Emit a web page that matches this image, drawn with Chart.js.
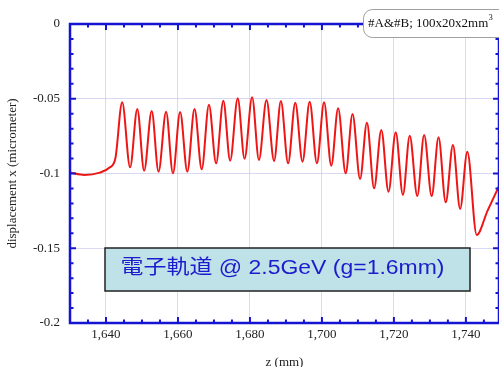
<!DOCTYPE html>
<html>
<head>
<meta charset="utf-8">
<script src="https://cdn.jsdelivr.net/npm/chart.js@4"></script>
<style>
  html, body { margin: 0; padding: 0; background: #fff; }
  canvas { display: block; }
</style>
</head>
<body>
<canvas id="grafico" width="499" height="367"></canvas>
<script>
// posição z (mm) dos extremos da curva e deslocamento x (micrometer)
const zPos = [1630, 1634, 1638.3, 1641, 1642.6,
  1644.5, 1646.7, 1648.7, 1650.6, 1652.7, 1654.6, 1656.7, 1658.6, 1660.6, 1662.6,
  1664.6, 1666.6, 1668.6, 1670.6, 1672.6, 1674.5, 1676.6, 1678.5, 1680.6, 1682.5,
  1684.6, 1686.7, 1688.6, 1690.6, 1692.6, 1694.6, 1696.6, 1698.6, 1700.6, 1702.6,
  1704.5, 1706.6, 1708.5, 1710.6, 1712.5, 1714.5, 1716.5, 1718.5, 1720.5, 1722.5,
  1724.4, 1726.5, 1728.4, 1730.5, 1732.4, 1734.4, 1736.4, 1738.4, 1740.4,
  1743.0, 1746.0, 1749.2];
const deslocamento = [-0.0994, -0.1010, -0.0994, -0.0960, -0.0900,
  -0.0524, -0.0959, -0.0569, -0.0981, -0.0582, -0.0988, -0.0587, -0.0999, -0.0589, -0.0988,
  -0.0569, -0.0972, -0.0540, -0.0932, -0.0513, -0.0914, -0.0497, -0.0901, -0.0490, -0.0910,
  -0.0508, -0.0916, -0.0515, -0.0932, -0.0526, -0.0921, -0.0520, -0.0932, -0.0524, -0.0948,
  -0.0564, -0.0999, -0.0602, -0.1037, -0.0660, -0.1099, -0.0709, -0.1122, -0.0724, -0.1144,
  -0.0747, -0.1151, -0.0742, -0.1151, -0.0758, -0.1193, -0.0809, -0.1237, -0.0854,
  -0.1411, -0.1250, -0.1084];

const xTicks = [1640, 1660, 1680, 1700, 1720, 1740];
const yTicks = [0, -0.05, -0.1, -0.15, -0.2];

const legendaTexto = "#A&#B; 100x20x2mm";
const legendaSup = "3";
const anotacaoTexto = "電子軌道 @ 2.5GeV (g=1.6mm)";

const AZUL = "#1414d2";
const fonteSerif = { family: "'Liberation Serif', 'Times New Roman', serif", size: 13 };

// eixos com marcas para dentro, caixa da legenda e caixa de anotação
const moldura = {
  id: "moldura",
  afterDatasetsDraw(chart) {
    const { ctx, chartArea: a, scales } = chart;
    const sx = scales.x, sy = scales.y;
    ctx.save();
    ctx.strokeStyle = AZUL;
    ctx.lineWidth = 2.5;
    ctx.strokeRect(a.left, a.top, a.right - a.left, a.bottom - a.top);

    ctx.lineWidth = 2;
    ctx.beginPath();
    for (let v = 1630; v <= 1749; v += 5) {
      const px = sx.getPixelForValue(v);
      const len = v % 20 === 0 ? 6 : 3.5;
      ctx.moveTo(px, a.bottom); ctx.lineTo(px, a.bottom - len);
      ctx.moveTo(px, a.top); ctx.lineTo(px, a.top + len);
    }
    for (let i = 0; i <= 20; i++) {
      const py = sy.getPixelForValue(-i * 0.01);
      const len = i % 5 === 0 ? 6 : 3.5;
      ctx.moveTo(a.left, py); ctx.lineTo(a.left + len, py);
      ctx.moveTo(a.right, py); ctx.lineTo(a.right - len, py);
    }
    ctx.stroke();

    // legenda no canto superior direito
    ctx.fillStyle = "#fff";
    ctx.strokeStyle = "#a0a0a0";
    ctx.lineWidth = 1;
    ctx.beginPath();
    ctx.roundRect(363.5, 9.5, 150, 28, 9);
    ctx.fill();
    ctx.stroke();
    ctx.fillStyle = "#111";
    ctx.font = "13px " + fonteSerif.family;
    ctx.textBaseline = "middle";
    ctx.textAlign = "left";
    ctx.fillText(legendaTexto, 368, 24);
    const w = ctx.measureText(legendaTexto).width;
    ctx.font = "8px " + fonteSerif.family;
    ctx.fillText(legendaSup, 368 + w + 0.5, 18);

    // caixa de anotação
    ctx.fillStyle = "#bfe2e9";
    ctx.strokeStyle = "#222";
    ctx.lineWidth = 1.5;
    ctx.fillRect(105, 248, 365, 43);
    ctx.strokeRect(105, 248, 365, 43);
    ctx.font = "20px 'Liberation Sans', 'Noto Sans CJK JP', sans-serif";
    const tw = ctx.measureText(anotacaoTexto).width;
    ctx.translate(120.5, 268);
    ctx.scale(324 / tw, 1);
    ctx.fillStyle = "#1c1ccc";
    ctx.fillText(anotacaoTexto, 0, 0);
    ctx.restore();
  }
};

new Chart(document.getElementById("grafico").getContext("2d"), {
  type: "line",
  data: {
    datasets: [{
      data: zPos.map((z, i) => ({ x: z, y: deslocamento[i] })),
      borderColor: "#ee1515",
      borderWidth: 2,
      pointRadius: 0,
      cubicInterpolationMode: "monotone",
      fill: false
    }]
  },
  options: {
    responsive: false,
    animation: false,
    devicePixelRatio: 1,
    layout: { padding: { top: 24, right: 0, left: 0, bottom: 0 } },
    plugins: {
      legend: { display: false },
      tooltip: { enabled: false }
    },
    scales: {
      x: {
        type: "linear",
        min: 1630,
        max: 1749.2,
        afterBuildTicks: s => { s.ticks = xTicks.map(v => ({ value: v })); },
        afterFit: s => { s.height = 44; },
        grid: { color: "rgba(180,180,235,0.5)", lineWidth: 1, drawTicks: false },
        border: { display: false },
        ticks: {
          font: fonteSerif,
          color: "#222",
          padding: 4,
          maxRotation: 0,
          callback: v => v.toLocaleString("en-US")
        },
        title: {
          display: true,
          text: "z (mm)",
          color: "#222",
          font: { ...fonteSerif, lineHeight: 0.7 },
          padding: { top: 0, bottom: 0 }
        }
      },
      y: {
        min: -0.2,
        max: 0,
        afterBuildTicks: s => { s.ticks = yTicks.map(v => ({ value: v })); },
        afterFit: s => { s.width = 70; },
        grid: { color: "rgba(180,180,235,0.5)", lineWidth: 1, drawTicks: false },
        border: { display: false },
        ticks: {
          font: fonteSerif,
          color: "#222",
          padding: 10,
          callback: v => String(v)
        },
        title: {
          display: true,
          text: "displacement x (micrometer)",
          color: "#222",
          font: fonteSerif,
          padding: { top: 5, bottom: 0 }
        }
      }
    }
  },
  plugins: [moldura]
});
</script>
</body>
</html>
